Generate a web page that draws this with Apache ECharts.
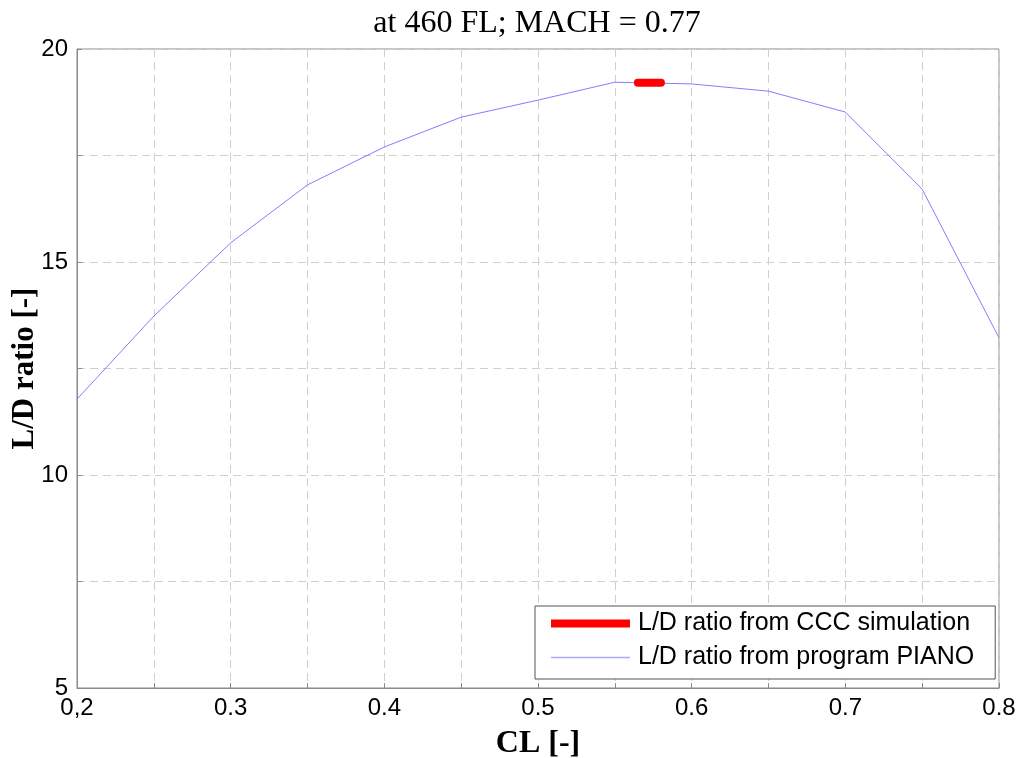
<!DOCTYPE html>
<html>
<head>
<meta charset="utf-8">
<script src="https://cdn.jsdelivr.net/npm/echarts@6/dist/echarts.min.js"></script>
<style>html,body{margin:0;padding:0;background:#fff;}#c{width:1022px;height:758px;}</style>
</head>
<body>
<div id="c"></div>
<script>
const titleText = 'at 460 FL; MACH = 0.77';
const xName = 'CL [-]';
const yName = 'L/D ratio [-]';
const pianoName = 'L/D ratio from program PIANO';
const cccName = 'L/D ratio from CCC simulation';

const pianoCL = [0.2, 0.25, 0.3, 0.35, 0.4, 0.45, 0.5, 0.55, 0.6, 0.65, 0.7, 0.75, 0.8];
const pianoLD = [11.78, 13.73, 15.45, 16.81, 17.70, 18.40, 18.80, 19.22, 19.18, 19.01, 18.52, 16.71, 13.22];

const cccCL = [0.565, 0.580];
const cccLD = [19.21, 19.21];

const xTickValues = [0.2, 0.3, 0.4, 0.5, 0.6, 0.7, 0.8];
const xTickLabels = ['0,2', '0.3', '0.4', '0.5', '0.6', '0.7', '0.8'];
const yTickValues = [5, 10, 15, 20];
const yTickLabels = ['5', '10', '15', '20'];

function lookup(vals, labels, v) {
  for (let i = 0; i < vals.length; i++) if (Math.abs(vals[i] - v) < 1e-6) return labels[i];
  return '';
}

const chart = echarts.init(document.getElementById('c'), null, {renderer: 'canvas'});
const grid = {left: 77, top: 49, right: 23, bottom: 70, containLabel: false, outerBoundsMode: 'none',
  show: true, borderColor: '#8a8a8a', borderWidth: 1, backgroundColor: '#fff'};
const gridLine = {show: true, lineStyle: {color: '#cfcfcf', type: [8, 5], width: 1}};
chart.setOption({
  animation: false,
  backgroundColor: '#fff',
  title: {
    text: titleText, left: 532, top: 3, textAlign: 'center',
    textStyle: {fontFamily: 'Liberation Serif', fontWeight: 'normal', fontSize: 32, color: '#000'}
  },
  grid: grid,
  legend: {
    orient: 'vertical', left: 535, top: 606,
    padding: [5, 21, 9, 16], itemGap: 9, itemWidth: 79, itemHeight: 14,
    backgroundColor: '#fff', borderColor: '#555', borderWidth: 1,
    textStyle: {fontFamily: 'Liberation Sans', fontSize: 25, color: '#000', padding: [0, 0, 0, 3]},
    data: [
      {name: cccName, icon: 'path://M0,0h80v8h-80z', itemStyle: {color: '#ff0000'}},
      {name: pianoName, icon: 'path://M0,0h80v1.3h-80z', itemStyle: {color: '#a8a8ff'}}
    ]
  },
  xAxis: {
    type: 'value', min: 0.2, max: 0.8, interval: 0.05,
    name: xName, nameLocation: 'middle', nameGap: 40, nameMoveOverlap: false,
    nameTextStyle: {fontFamily: 'Liberation Serif', fontWeight: 'bold', fontSize: 32, color: '#000'},
    axisLine: {show: true, lineStyle: {color: '#8a8a8a'}},
    axisTick: {show: true, inside: true, length: 5, lineStyle: {color: '#8a8a8a'}},
    axisLabel: {
      margin: 8, fontFamily: 'Liberation Sans', fontSize: 24, color: '#000', showMinLabel: true, showMaxLabel: true,
      formatter: v => lookup(xTickValues, xTickLabels, v)
    },
    splitLine: gridLine
  },
  yAxis: {
    type: 'value', min: 5, max: 20, interval: 2.5,
    name: yName, nameLocation: 'middle', nameGap: 37, nameMoveOverlap: false,
    nameTextStyle: {fontFamily: 'Liberation Serif', fontWeight: 'bold', fontSize: 31, color: '#000'},
    axisLine: {show: true, lineStyle: {color: '#8a8a8a'}},
    axisTick: {show: true, inside: true, length: 5, lineStyle: {color: '#8a8a8a'}},
    axisLabel: {
      margin: 9, fontFamily: 'Liberation Sans', fontSize: 24, color: '#000', showMinLabel: true, showMaxLabel: true,
      formatter: v => lookup(yTickValues, yTickLabels, v)
    },
    splitLine: gridLine
  },
  series: [
    {
      name: pianoName, type: 'line', showSymbol: false, symbol: 'none',
      data: pianoCL.map((x, i) => [x, pianoLD[i]]),
      lineStyle: {color: '#7f7fff', width: 1}, itemStyle: {color: '#a8a8ff'}, z: 2
    },
    {
      name: cccName, type: 'line', showSymbol: false, symbol: 'none',
      data: cccCL.map((x, i) => [x, cccLD[i]]),
      lineStyle: {color: '#ff0000', width: 8, cap: 'round'}, itemStyle: {color: '#ff0000'}, z: 3
    }
  ]
});
</script>
</body>
</html>
